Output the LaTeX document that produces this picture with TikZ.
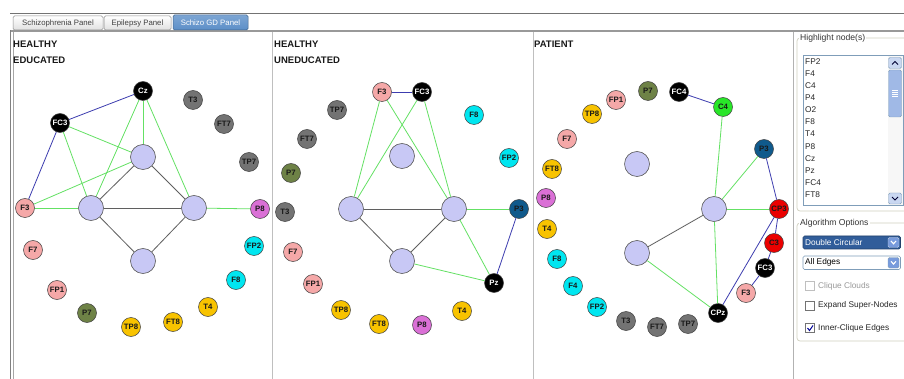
\documentclass[tikz,border=0pt]{standalone}
\usepackage{fontspec}
\setmainfont{Liberation Sans}
\newcommand\nlab{\fontsize{7.8}{7.8}\selectfont\bfseries}
\newcommand\uifont{\fontsize{8.3}{8.3}\selectfont}
\newcommand\ttlfont{\fontsize{9.5}{9.5}\selectfont\bfseries}
\definecolor{lav}{RGB}{200,200,245}
\definecolor{cpk}{RGB}{245,168,168}
\definecolor{col}{RGB}{110,130,70}
\definecolor{cgy}{RGB}{115,115,115}
\definecolor{ccy}{RGB}{0,230,240}
\definecolor{cyl}{RGB}{248,195,0}
\definecolor{cmg}{RGB}{218,112,214}
\definecolor{cdb}{RGB}{16,90,140}
\definecolor{crd}{RGB}{235,0,0}
\definecolor{cgn}{RGB}{40,230,40}
\definecolor{egr}{RGB}{100,225,100}
\definecolor{ebl}{RGB}{60,60,175}
\definecolor{egy}{RGB}{95,95,95}
\definecolor{grpc}{RGB}{208,208,191}
\definecolor{xpb}{RGB}{127,157,185}
\definecolor{xpbtn}{RGB}{120,155,220}
\definecolor{selb}{RGB}{49,93,154}
\definecolor{tabb}{RGB}{92,143,200}
\begin{document}
\begin{tikzpicture}[x=1pt,y=-1pt,
  sn/.style={circle, draw=black!75, line width=0.5pt, minimum size=19pt, inner sep=0pt, font=\nlab, text=black!90},
  bignode/.style={circle, draw=black!65, line width=0.6pt, fill=lav, minimum size=25pt, inner sep=0pt},
  pk/.style={fill=cpk}, ol/.style={fill=col}, gy/.style={fill=cgy},
  cy/.style={fill=ccy}, yl/.style={fill=cyl}, mg/.style={fill=cmg},
  db/.style={fill=cdb}, rd/.style={fill=crd}, gn/.style={fill=cgn},
  bk/.style={fill=black, text=white},
  ge/.style={draw=egr, line width=0.8pt},
  be/.style={draw=ebl, line width=0.8pt},
  ke/.style={draw=egy, line width=0.8pt},
  ttl/.style={font=\ttlfont, anchor=west, inner sep=0pt, text=black!90},
  tabn/.style={draw=black!45, line width=0.5pt, top color=white, bottom color=black!12, minimum height=14pt, inner sep=0pt, font=\fontsize{7.8}{7.8}\selectfont, text=black!75, rounded corners=1.5pt},
  uitxt/.style={font=\uifont, anchor=west, inner sep=0pt, text=black!85},
  grp/.style={draw=grpc, line width=0.7pt, rounded corners=3pt},
  grplab/.style={font=\fontsize{8.6}{8.6}\selectfont, anchor=west, fill=white, inner sep=1pt, text=black!80},
  chk/.style={draw=black!55, line width=0.6pt, fill=white}
]
\useasboundingbox (0,0) rectangle (904,379);
\fill[white] (0,0) rectangle (904,379);

% window frame and tabs
\draw[black!55, line width=0.8pt] (10,13.5) -- (904,13.5);
\fill[black!40] (10,30) rectangle (904,32.5);
\draw[black!50, line width=0.6pt] (10.5,30) -- (10.5,379);
\draw[black!35, line width=0.6pt] (12.8,32) -- (12.8,379);
\draw[black!25, line width=0.8pt] (272.5,32) -- (272.5,379);
\draw[black!25, line width=0.8pt] (533,32) -- (533,379);
\draw[black!30, line width=0.8pt] (793,32) -- (793,379);
\node[tabn, minimum width=90pt] (tab1) at (58,23) {Schizophrenia Panel};
\node[tabn, minimum width=67pt] (tab2) at (137.5,23) {Epilepsy Panel};
\node[tabn, minimum width=75pt, minimum height=15pt, top color=tabb!80, bottom color=tabb, draw=tabb!70!black, text=white] (tab3) at (210.5,22.5) {Schizo GD Panel};

% titles
\node[ttl] (h1a) at (13,44) {HEALTHY};
\node[ttl] (h1b) at (13,60.5) {EDUCATED};
\node[ttl] (h2a) at (274,44) {HEALTHY};
\node[ttl] (h2b) at (274,60.5) {UNEDUCATED};
\node[ttl] (h3a) at (534,44) {PATIENT};

% ---------- Panel 1 ----------
\node[sn,bk] (aCz) at (143,91) {Cz};
\node[sn,gy] (aT3) at (193,100) {T3};
\node[sn,bk] (aFC3) at (60,123) {FC3};
\node[sn,gy] (aFT7) at (224,124) {FT7};
\node[sn,gy] (aTP7) at (249,162) {TP7};
\node[sn,pk] (aF3) at (25,208) {F3};
\node[sn,mg] (aP8) at (260,209) {P8};
\node[sn,pk] (aF7) at (33,250) {F7};
\node[sn,cy] (aFP2) at (254,246) {FP2};
\node[sn,cy] (aF8) at (236,280) {F8};
\node[sn,pk] (aFP1) at (57,290) {FP1};
\node[sn,yl] (aT4) at (208,307) {T4};
\node[sn,ol] (aP7) at (87,313) {P7};
\node[sn,yl] (aFT8) at (173,322) {FT8};
\node[sn,yl] (aTP8) at (131,327) {TP8};
\node[bignode] (aBt) at (143,157) {};
\node[bignode] (aBl) at (91,208) {};
\node[bignode] (aBr) at (194,208) {};
\node[bignode] (aBb) at (143,261) {};
\draw[be] (aCz) -- (aFC3);
\draw[be] (aFC3) -- (aF3);
\draw[ge] (aCz) -- (aBt);
\draw[ge] (aCz) -- (aBl);
\draw[ge] (aCz) -- (aBr);
\draw[ge] (aFC3) -- (aBt);
\draw[ge] (aFC3) -- (aBl);
\draw[ge] (aF3) -- (aBt);
\draw[ge] (aF3) -- (aBl);
\draw[ge] (aBr) -- (aP8);
\draw[ke] (aBt) -- (aBl);
\draw[ke] (aBt) -- (aBr);
\draw[ke] (aBl) -- (aBr);
\draw[ke] (aBl) -- (aBb);
\draw[ke] (aBr) -- (aBb);

% ---------- Panel 2 ----------
\node[sn,pk] (bF3) at (382,92) {F3};
\node[sn,bk] (bFC3) at (422,92) {FC3};
\node[sn,gy] (bTP7) at (337,110) {TP7};
\node[sn,cy] (bF8) at (474,115) {F8};
\node[sn,gy] (bFT7) at (307,139) {FT7};
\node[sn,cy] (bFP2) at (509,158) {FP2};
\node[sn,ol] (bP7) at (291,173) {P7};
\node[sn,gy] (bT3) at (285,212) {T3};
\node[sn,db] (bP3) at (519,209) {P3};
\node[sn,pk] (bF7) at (293,252) {F7};
\node[sn,bk] (bPz) at (494,283) {Pz};
\node[sn,pk] (bFP1) at (313,284) {FP1};
\node[sn,yl] (bTP8) at (341,310) {TP8};
\node[sn,yl] (bT4) at (462,311) {T4};
\node[sn,yl] (bFT8) at (379,324) {FT8};
\node[sn,mg] (bP8) at (422,325) {P8};
\node[bignode] (bBt) at (402,156) {};
\node[bignode] (bBl) at (351,209) {};
\node[bignode] (bBr) at (454,209) {};
\node[bignode] (bBb) at (402,261) {};
\draw[be] (bF3) -- (bFC3);
\draw[be] (bP3) -- (bPz);
\draw[ge] (bF3) -- (bBl);
\draw[ge] (bF3) -- (bBr);
\draw[ge] (bFC3) -- (bBl);
\draw[ge] (bFC3) -- (bBr);
\draw[ge] (bBr) -- (bP3);
\draw[ge] (bBr) -- (bPz);
\draw[ge] (bBb) -- (bPz);
\draw[ke] (bBl) -- (bBr);
\draw[ke] (bBl) -- (bBb);
\draw[ke] (bBr) -- (bBb);

% ---------- Panel 3 ----------
\node[sn,ol] (cP7) at (648,91) {P7};
\node[sn,bk] (cFC4) at (679,92) {FC4};
\node[sn,pk] (cFP1) at (616,100) {FP1};
\node[sn,gn] (cC4) at (723,107) {C4};
\node[sn,yl] (cTP8) at (592,114) {TP8};
\node[sn,pk] (cF7) at (567,139) {F7};
\node[sn,db] (cP3) at (764,149) {P3};
\node[sn,yl] (cFT8) at (552,169) {FT8};
\node[sn,mg] (cP8) at (546,198) {P8};
\node[sn,rd] (cCP3) at (779,209) {CP3};
\node[sn,yl] (cT4) at (547,229) {T4};
\node[sn,rd] (cC3) at (774,243) {C3};
\node[sn,cy] (cF8) at (557,259) {F8};
\node[sn,bk] (cFC3) at (765,268) {FC3};
\node[sn,cy] (cF4) at (573,286) {F4};
\node[sn,pk] (cF3) at (746,293) {F3};
\node[sn,cy] (cFP2) at (597,307) {FP2};
\node[sn,bk] (cCPz) at (718,313) {CPz};
\node[sn,gy] (cT3) at (626,321) {T3};
\node[sn,gy] (cTP7) at (688,324) {TP7};
\node[sn,gy] (cFT7) at (657,327) {FT7};
\node[bignode] (cBt) at (637,164) {};
\node[bignode] (cBr) at (714,209) {};
\node[bignode] (cBl) at (637,253) {};
\draw[be] (cFC4) -- (cC4);
\draw[be] (cP3) -- (cCP3);
\draw[be] (cCP3) -- (cCPz);
\draw[be] (cCP3) -- (cC3);
\draw[be] (cC3) -- (cFC3);
\draw[be] (cFC3) -- (cF3);
\draw[ge] (cC4) -- (cBr);
\draw[ge] (cP3) -- (cBr);
\draw[ge] (cBr) -- (cCP3);
\draw[ge] (cBr) -- (cCPz);
\draw[ge] (cBl) -- (cCPz);
\draw[ke] (cBl) -- (cBr);

% ---------- Right panel ----------
\draw[grp] (797,38) rectangle (915,211);
\node[grplab] (lhl) at (799,38) {Highlight node(s)};
\draw[xpb, line width=0.7pt, fill=white] (803,55.5) rectangle (903,205.5);
\fill[black!3] (888,56) rectangle (902.5,205);
\draw[xpb, fill=xpbtn!40, rounded corners=1.5pt] (888.5,57.5) rectangle (901.5,68.5);
\draw[black!80!blue, line width=1pt] (892,64.5) -- (895,61.5) -- (898,64.5);
\draw[xpb, fill=xpbtn!70, rounded corners=1.5pt] (888.5,70) rectangle (901.5,117);
\foreach \yy in {90,92,94,96} \draw[white, line width=0.5pt] (892,\yy) -- (898,\yy);
\draw[xpb, fill=xpbtn!40, rounded corners=1.5pt] (888.5,193) rectangle (901.5,204);
\draw[black!80!blue, line width=1pt] (892,197) -- (895,200) -- (898,197);
\node[uitxt] (l1) at (805,62) {FP2};
\node[uitxt] (l2) at (805,74) {F4};
\node[uitxt] (l3) at (805,86) {C4};
\node[uitxt] (l4) at (805,98) {P4};
\node[uitxt] (l5) at (805,110) {O2};
\node[uitxt] (l6) at (805,122) {F8};
\node[uitxt] (l7) at (805,134) {T4};
\node[uitxt] (l8) at (805,146.5) {P8};
\node[uitxt] (l9) at (805,158.5) {Cz};
\node[uitxt] (l10) at (805,170.5) {Pz};
\node[uitxt] (l11) at (805,182.5) {FC4};
\node[uitxt] (l12) at (805,195) {FT8};

\draw[grp] (797,223) rectangle (915,341);
\node[grplab] (lalg) at (799,223) {Algorithm Options};
\draw[selb!70!black, line width=0.6pt, fill=selb, rounded corners=1.5pt] (803,236) rectangle (900.5,249);
\node[uitxt, text=white] (dd1) at (805,242.5) {Double Circular};
\draw[white!70!selb, fill=xpbtn, rounded corners=1.5pt] (888,237.5) rectangle (899,247.5);
\draw[white, line width=1.1pt] (891,241) -- (893.5,243.8) -- (896,241);
\draw[xpb, line width=0.6pt, fill=white, rounded corners=1.5pt] (803,256) rectangle (900.5,269.5);
\node[uitxt, text=black] (dd2) at (805,262.8) {All Edges};
\draw[xpb, fill=xpbtn, rounded corners=1.5pt] (888,257.5) rectangle (899,268);
\draw[white, line width=1.1pt] (891,261.3) -- (893.5,264.1) -- (896,261.3);
\draw[chk, draw=black!25] (805.5,281.5) rectangle (814.5,290.5);
\node[uitxt, text=black!40] (cb1) at (818,286) {Clique Clouds};
\draw[chk] (805.5,301) rectangle (814.5,310);
\node[uitxt] (cb2) at (818,305.5) {Expand Super-Nodes};
\draw[chk] (805.5,323.5) rectangle (814.5,332.5);
\draw[blue!60!black, line width=1pt] (807.5,328) -- (809.5,330.5) -- (813,325.5);
\node[uitxt] (cb3) at (818,328) {Inner-Clique Edges};
\end{tikzpicture}
\end{document}
